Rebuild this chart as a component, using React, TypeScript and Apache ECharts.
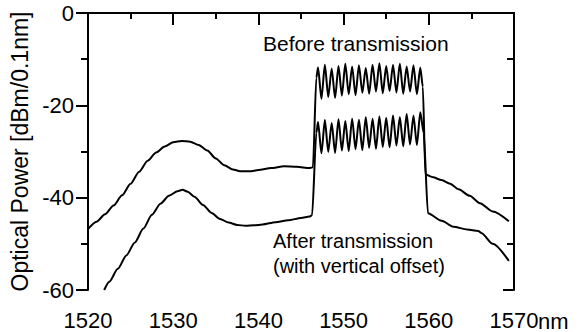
import React, { useEffect, useRef } from "react";
import * as echarts from "echarts";

// Wavelength ticks (nm) and power ticks (dBm/0.1nm)
const xTicks = [1520, 1530, 1540, 1550, 1560, 1570];
const yTicks = [0, -20, -40, -60];

// Channel comb: peak and trough wavelengths
const peakWl = [1547.0, 1547.8, 1548.6, 1549.4, 1550.2, 1551.0, 1551.8, 1552.6, 1553.4, 1554.2, 1555.0, 1555.8, 1556.6, 1557.4, 1558.2, 1559.0];
const troughWl = [1547.4, 1548.2, 1549.0, 1549.8, 1550.6, 1551.4, 1552.2, 1553.0, 1553.8, 1554.6, 1555.4, 1556.2, 1557.0, 1557.8, 1558.6];

// Before transmission
const beforeLeft: [number, number][] = [
  [1520.0, -46.8], [1521.0, -45.2], [1522.0, -43.6], [1523.0, -41.7], [1524.0, -39.5], [1525.0, -37.0],
  [1526.0, -34.4], [1527.0, -32.0], [1528.0, -30.2], [1529.0, -28.9], [1530.0, -28.0], [1531.0, -27.7],
  [1532.0, -27.9], [1533.0, -28.6], [1534.0, -29.8], [1535.0, -31.5], [1536.0, -33.0], [1537.0, -33.9],
  [1538.0, -34.3], [1539.0, -34.3], [1540.0, -34.0], [1541.5, -33.6], [1543.0, -33.2], [1544.5, -33.3],
  [1546.0, -33.6], [1546.4, -33.4], [1546.8, -14.0],
];
const beforePeaks = [-11.8, -11.2, -12.0, -11.5, -11.0, -11.6, -11.3, -11.9, -11.2, -10.9, -11.5, -11.2, -11.0, -11.6, -11.3, -11.8];
const beforeTroughs = [-18.6, -18.2, -18.4, -17.9, -17.6, -17.8, -17.3, -17.5, -17.0, -17.4, -16.9, -17.2, -17.5, -17.0, -17.6];
const beforeRight: [number, number][] = [
  [1559.3, -16.0], [1559.6, -35.0], [1560.5, -35.6], [1561.5, -36.2], [1562.5, -37.0], [1563.5, -38.2],
  [1564.8, -39.6], [1566.0, -41.2], [1567.5, -43.0], [1569.4, -45.1],
];

// After transmission (with vertical offset)
const afterLeft: [number, number][] = [
  [1521.9, -60.0], [1522.5, -58.2], [1523.5, -55.4], [1524.5, -52.5], [1525.5, -49.7], [1526.5, -46.7],
  [1527.5, -43.7], [1528.5, -41.3], [1529.5, -39.6], [1530.5, -38.6], [1531.1, -38.3], [1531.7, -38.7],
  [1532.5, -39.8], [1533.5, -41.6], [1534.5, -43.3], [1535.5, -44.6], [1536.5, -45.4], [1537.5, -45.9],
  [1538.5, -46.1], [1539.5, -46.0], [1540.5, -45.8], [1542.0, -45.3], [1543.5, -44.9], [1545.0, -44.4],
  [1546.0, -44.1], [1546.3, -43.8], [1546.8, -26.0],
];
const afterPeaks = [-23.6, -23.2, -23.8, -23.0, -23.4, -22.9, -23.1, -22.6, -22.9, -22.4, -22.7, -22.2, -22.5, -21.9, -22.2, -21.5];
const afterTroughs = [-30.4, -30.1, -30.3, -29.8, -29.9, -29.5, -29.7, -29.2, -29.4, -29.0, -29.1, -28.7, -28.9, -28.5, -28.6];
const afterRight: [number, number][] = [
  [1559.4, -26.0], [1559.9, -43.4], [1561.5, -45.0], [1562.9, -46.3], [1564.5, -46.9], [1565.8, -47.2],
  [1566.2, -47.7], [1567.5, -50.0], [1569.4, -53.7],
];

const beforeLabel = "Before transmission";
const afterLabel1 = "After transmission";
const afterLabel2 = "(with vertical offset)";
const yName = "Optical Power [dBm/0.1nm]";
const xUnit = "nm";

function comb(peaks: number[], troughs: number[]): [number, number][] {
  const out: [number, number][] = [];
  peakWl.forEach((w, i) => {
    out.push([w, peaks[i]]);
    if (i < troughWl.length) out.push([troughWl[i], troughs[i]]);
  });
  return out;
}

const FONT = "'Liberation Sans', Arial, Helvetica, sans-serif";

export default function App() {
  const ref = useRef<HTMLDivElement>(null);
  useEffect(() => {
    if (!ref.current) return;
    const chart = echarts.init(ref.current, undefined, { renderer: "svg" });
    const beforeData = [...beforeLeft, ...comb(beforePeaks, beforeTroughs), ...beforeRight];
    const afterData = [...afterLeft, ...comb(afterPeaks, afterTroughs), ...afterRight];
    const axisLine = { show: true, lineStyle: { color: "#000", width: 2 } };
    chart.setOption({
      animation: false,
      backgroundColor: "#fff",
      grid: { left: 88, right: 72, top: 13, bottom: 42, containLabel: false },
      xAxis: [
        {
          type: "value",
          min: xTicks[0],
          max: xTicks[xTicks.length - 1],
          interval: 10,
          axisLine,
          axisTick: { show: true, inside: false, length: 12, lineStyle: { color: "#000", width: 2 } },
          minorTick: { show: true, splitNumber: 2, length: 6, lineStyle: { color: "#000", width: 2 } },
          splitLine: { show: false },
          axisLabel: { fontSize: 22, color: "#000", fontFamily: FONT, margin: 19, formatter: (v: number) => String(v) },
        },
        {
          type: "value",
          position: "top",
          min: xTicks[0],
          max: xTicks[xTicks.length - 1],
          interval: 10,
          axisLine,
          axisTick: { show: true, inside: true, length: 11, lineStyle: { color: "#000", width: 2 } },
          minorTick: { show: true, splitNumber: 2, length: 5, lineStyle: { color: "#000", width: 2 } },
          splitLine: { show: false },
          axisLabel: { show: false },
        },
      ],
      yAxis: [
        {
          type: "value",
          min: yTicks[yTicks.length - 1],
          max: yTicks[0],
          interval: 20,
          axisLine,
          axisTick: { show: true, inside: false, length: 12, lineStyle: { color: "#000", width: 2 } },
          minorTick: { show: true, splitNumber: 2, length: 7, lineStyle: { color: "#000", width: 2 } },
          splitLine: { show: false },
          axisLabel: { fontSize: 22, color: "#000", fontFamily: FONT, margin: 14, formatter: (v: number) => String(v) },
          name: yName,
          nameLocation: "middle",
          nameGap: 51,
          nameTextStyle: { fontSize: 23, color: "#000", fontFamily: FONT },
        },
        {
          type: "value",
          position: "right",
          min: yTicks[yTicks.length - 1],
          max: yTicks[0],
          interval: 20,
          axisLine,
          axisTick: { show: true, inside: true, length: 11, lineStyle: { color: "#000", width: 2 } },
          minorTick: { show: true, splitNumber: 2, length: 7, lineStyle: { color: "#000", width: 2 } },
          splitLine: { show: false },
          axisLabel: { show: false },
        },
      ],
      series: [
        {
          name: beforeLabel,
          type: "line",
          data: beforeData,
          showSymbol: false,
          smooth: 0.25,
          smoothMonotone: "x",
          lineStyle: { color: "#000", width: 2 },
          z: 3,
        },
        {
          name: afterLabel1,
          type: "line",
          data: afterData,
          showSymbol: false,
          smooth: 0.25,
          smoothMonotone: "x",
          lineStyle: { color: "#000", width: 2 },
          z: 3,
        },
      ],
      graphic: [
        {
          type: "text",
          left: 263,
          top: 33,
          style: { text: beforeLabel, fontSize: 21, fill: "#000", fontFamily: FONT },
        },
        {
          type: "text",
          left: 273,
          top: 231,
          style: { text: afterLabel1, fontSize: 20, fill: "#000", fontFamily: FONT },
        },
        {
          type: "text",
          left: 273,
          top: 256,
          style: { text: afterLabel2, fontSize: 20, fill: "#000", fontFamily: FONT },
        },
        {
          type: "text",
          x: 538,
          y: 321,
          style: { text: xUnit, fontSize: 22, fill: "#000", fontFamily: FONT, align: "left", verticalAlign: "middle" },
        },
      ],
    });
    return () => chart.dispose();
  }, []);
  return <div ref={ref} style={{ position: "fixed", left: 0, top: 0, width: 586, height: 332, background: "#fff" }} />;
}
